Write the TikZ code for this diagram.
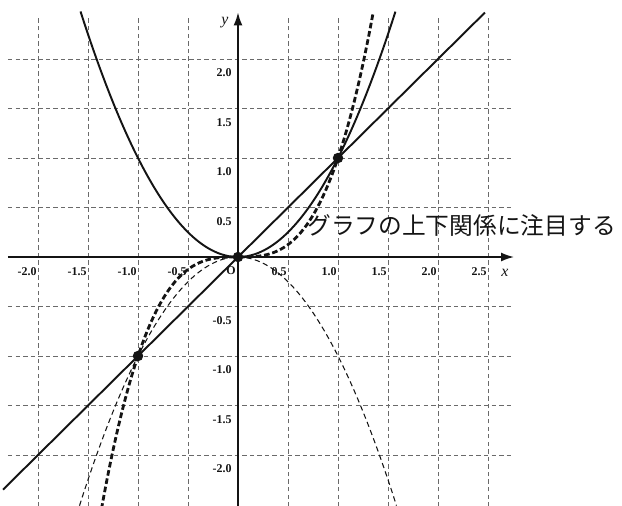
\documentclass[tikz,border=0pt]{standalone}
\usepackage{fontspec}
\setmainfont{Liberation Serif}
\newfontfamily\jpfont{Noto Sans CJK JP}
\usetikzlibrary{arrows.meta}
\definecolor{GridGray}{HTML}{6A6A6A}
\definecolor{InkBlack}{HTML}{141414}

\begin{document}
\begin{tikzpicture}[
  x=2cm,
  y=1.98cm,
  >=Latex,
  grid line/.style={draw=GridGray,line width=0.4pt,dash pattern=on 2.5pt off 1.8pt},
  axis/.style={-{Latex[length=2.6mm,width=1.8mm]},draw=InkBlack,line width=0.9pt},
  tick label/.style={font=\fontsize{6.8}{8}\selectfont\bfseries,text=InkBlack,
    inner sep=0.6pt,anchor=east},
  axis label/.style={font=\small\itshape,text=InkBlack,inner sep=0pt},
  curve/.style={draw=InkBlack,line width=1.1pt,smooth,samples=90},
  thick dash/.style={curve,line width=1.6pt,dash pattern=on 3.2pt off 1.6pt},
  thin dash/.style={curve,line width=0.6pt,dash pattern=on 3pt off 2pt},
  dot/.style={circle,fill=InkBlack,inner sep=0,minimum size=2.1mm}
]
  \useasboundingbox (-2.38,-2.515) rectangle (3.84,2.596);

  % grid
  \foreach \gx in {-2.0,-1.5,-1.0,-0.5,0.5,1.0,1.5,2.0,2.5} {
    \draw[grid line] (\gx,-2.52) -- (\gx,2.42);
  }
  \foreach \gy in {-2.0,-1.5,-1.0,-0.5,0.5,1.0,1.5,2.0} {
    \draw[grid line] (-2.3,\gy) -- (2.74,\gy);
  }

  % axes
  \coordinate (xstart) at (-2.3,0);
  \coordinate (xend) at (2.76,0);
  \coordinate (ystart) at (0,-2.52);
  \coordinate (yend) at (0,2.47);
  \draw[axis] (xstart) -- (xend);
  \draw[axis] (ystart) -- (yend);
  \node[axis label] (xname) at (2.67,-0.16) {x};
  \node[axis label] (yname) at (-0.13,2.37) {y};

  % tick labels
  \foreach \tx/\tt [count=\i] in {-2/-2.0,-1.5/-1.5,-1/-1.0,-0.5/-0.5,0.5/0.5,1/1.0,1.5/1.5,2/2.0,2.5/2.5} {
    \node[tick label] (xtick\i) at (\tx,-0.15) {\tt};
  }
  \node[tick label] (orig) at (-0.01,-0.14) {O};
  \foreach \ty/\tt [count=\i] in {2/2.0,1.5/1.5,1/1.0,0.5/0.5,-0.5/-0.5,-1/-1.0,-1.5/-1.5,-2/-2.0} {
    \node[tick label] (ytick\i) at (-0.05,\ty-0.14) {\tt};
  }

  % graphs
  \draw[curve] plot[domain=-2.35:2.47] (\x,\x);
  \draw[curve] plot[domain=-1.575:1.575] (\x,{\x*\x});
  \draw[thin dash] plot[domain=-1.585:1.585] (\x,{-\x*\x});
  \draw[thick dash] plot[domain=-1.365:1.352] (\x,{\x*\x*\x});

  % common points
  \node[dot] (p0) at (0,0) {};
  \node[dot] (p1) at (1,1) {};
  \node[dot] (pm) at (-1,-1) {};

  \node[font=\jpfont\fontsize{13.5}{16}\selectfont,text=InkBlack,anchor=west,inner sep=0pt]
    (note) at (0.69,0.32) {グラフの上下関係に注目する};
\end{tikzpicture}
\end{document}
